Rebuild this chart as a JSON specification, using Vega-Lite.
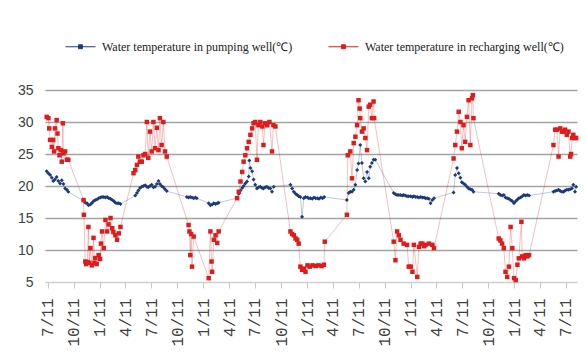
{
  "$schema": "https://vega.github.io/schema/vega-lite/v6.json",
  "width": 532,
  "height": 192,
  "autosize": {"type": "none"},
  "padding": {"left": 45, "top": 90, "right": 9, "bottom": 74},
  "background": "white",
  "config": {"view": {"stroke": null}},
  "data": {"values": [
    {"d":"2006-07-08","s":"P","t":22.3},{"d":"2006-07-14","s":"P","t":22.0},{"d":"2006-07-20","s":"P","t":21.7},{"d":"2006-07-26","s":"P","t":21.3},{"d":"2006-07-31","s":"P","t":20.8},{"d":"2006-08-06","s":"P","t":21.0},{"d":"2006-08-12","s":"P","t":21.4},{"d":"2006-08-18","s":"P","t":20.8},{"d":"2006-08-24","s":"P","t":20.4},{"d":"2006-08-30","s":"P","t":20.9},{"d":"2006-09-05","s":"P","t":20.3},{"d":"2006-09-11","s":"P","t":19.6},{"d":"2006-09-17","s":"P","t":19.4},{"d":"2006-09-22","s":"P","t":19.1},
    {"d":"2006-11-15","s":"P","t":17.7},{"d":"2006-11-21","s":"P","t":17.4},{"d":"2006-11-27","s":"P","t":17.3},{"d":"2006-12-02","s":"P","t":17.0},{"d":"2006-12-09","s":"P","t":17.1},{"d":"2006-12-15","s":"P","t":17.4},{"d":"2006-12-20","s":"P","t":17.6},{"d":"2006-12-26","s":"P","t":17.8},{"d":"2007-01-01","s":"P","t":17.9},{"d":"2007-01-07","s":"P","t":18.1},{"d":"2007-01-13","s":"P","t":18.2},{"d":"2007-01-19","s":"P","t":18.3},{"d":"2007-01-25","s":"P","t":18.3},{"d":"2007-01-31","s":"P","t":18.2},{"d":"2007-02-06","s":"P","t":18.3},{"d":"2007-02-12","s":"P","t":18.1},{"d":"2007-02-18","s":"P","t":18.0},{"d":"2007-02-24","s":"P","t":17.8},{"d":"2007-03-02","s":"P","t":17.6},{"d":"2007-03-07","s":"P","t":17.4},{"d":"2007-03-13","s":"P","t":17.3},{"d":"2007-03-19","s":"P","t":17.3},{"d":"2007-03-25","s":"P","t":17.2},
    {"d":"2007-05-16","s":"P","t":18.5},{"d":"2007-05-22","s":"P","t":18.9},{"d":"2007-05-27","s":"P","t":19.3},{"d":"2007-06-02","s":"P","t":19.7},{"d":"2007-06-08","s":"P","t":19.9},{"d":"2007-06-14","s":"P","t":20.0},{"d":"2007-06-20","s":"P","t":20.1},{"d":"2007-06-26","s":"P","t":19.9},{"d":"2007-07-01","s":"P","t":19.8},{"d":"2007-07-07","s":"P","t":20.0},{"d":"2007-07-13","s":"P","t":20.2},{"d":"2007-07-19","s":"P","t":19.8},{"d":"2007-07-25","s":"P","t":19.9},{"d":"2007-07-31","s":"P","t":20.3},{"d":"2007-08-06","s":"P","t":20.8},{"d":"2007-08-11","s":"P","t":20.3},{"d":"2007-08-17","s":"P","t":20.0},{"d":"2007-08-23","s":"P","t":19.8},{"d":"2007-08-29","s":"P","t":19.5},{"d":"2007-09-04","s":"P","t":19.2},
    {"d":"2007-11-14","s":"P","t":18.3},{"d":"2007-11-20","s":"P","t":18.2},{"d":"2007-11-26","s":"P","t":18.3},{"d":"2007-12-02","s":"P","t":18.2},{"d":"2007-12-08","s":"P","t":18.1},{"d":"2007-12-14","s":"P","t":18.2},{"d":"2007-12-19","s":"P","t":18.1},
    {"d":"2008-01-30","s":"P","t":17.3},{"d":"2008-02-05","s":"P","t":17.0},{"d":"2008-02-11","s":"P","t":17.1},{"d":"2008-02-17","s":"P","t":17.3},{"d":"2008-02-23","s":"P","t":17.2},{"d":"2008-02-29","s":"P","t":17.3},{"d":"2008-03-05","s":"P","t":17.4},
    {"d":"2008-05-09","s":"P","t":18.1},{"d":"2008-05-15","s":"P","t":18.8},{"d":"2008-05-21","s":"P","t":19.3},{"d":"2008-05-27","s":"P","t":19.7},{"d":"2008-06-01","s":"P","t":20.0},{"d":"2008-06-07","s":"P","t":20.4},{"d":"2008-06-13","s":"P","t":20.7},{"d":"2008-06-19","s":"P","t":21.5},{"d":"2008-06-21","s":"P","t":24.0},{"d":"2008-06-25","s":"P","t":22.8},{"d":"2008-07-01","s":"P","t":22.3},{"d":"2008-07-06","s":"P","t":21.0},{"d":"2008-07-12","s":"P","t":20.2},{"d":"2008-07-18","s":"P","t":19.6},{"d":"2008-07-24","s":"P","t":19.8},{"d":"2008-07-30","s":"P","t":19.9},{"d":"2008-08-05","s":"P","t":19.7},{"d":"2008-08-10","s":"P","t":19.6},{"d":"2008-08-16","s":"P","t":19.8},{"d":"2008-08-22","s":"P","t":19.9},{"d":"2008-08-28","s":"P","t":19.7},{"d":"2008-09-03","s":"P","t":19.6},{"d":"2008-09-09","s":"P","t":19.1},{"d":"2008-09-15","s":"P","t":19.9},
    {"d":"2008-11-13","s":"P","t":20.2},{"d":"2008-11-19","s":"P","t":19.6},{"d":"2008-11-25","s":"P","t":19.1},{"d":"2008-12-01","s":"P","t":18.8},{"d":"2008-12-07","s":"P","t":18.6},{"d":"2008-12-12","s":"P","t":18.4},{"d":"2008-12-18","s":"P","t":18.3},{"d":"2008-12-24","s":"P","t":15.2},{"d":"2008-12-30","s":"P","t":18.1},{"d":"2009-01-05","s":"P","t":18.3},{"d":"2009-01-12","s":"P","t":18.2},{"d":"2009-01-17","s":"P","t":18.1},{"d":"2009-01-23","s":"P","t":18.1},{"d":"2009-01-29","s":"P","t":18.0},{"d":"2009-02-04","s":"P","t":18.2},{"d":"2009-02-10","s":"P","t":18.1},{"d":"2009-02-16","s":"P","t":18.1},{"d":"2009-02-22","s":"P","t":18.0},{"d":"2009-02-28","s":"P","t":18.2},{"d":"2009-03-06","s":"P","t":18.1},{"d":"2009-03-12","s":"P","t":18.3},
    {"d":"2009-05-31","s":"P","t":17.8},{"d":"2009-06-06","s":"P","t":18.9},{"d":"2009-06-12","s":"P","t":19.1},{"d":"2009-06-18","s":"P","t":19.1},{"d":"2009-06-24","s":"P","t":19.4},{"d":"2009-06-30","s":"P","t":20.2},{"d":"2009-07-06","s":"P","t":22.5},{"d":"2009-07-11","s":"P","t":23.5},{"d":"2009-07-17","s":"P","t":26.4},{"d":"2009-07-23","s":"P","t":23.6},{"d":"2009-07-29","s":"P","t":21.2},{"d":"2009-08-04","s":"P","t":20.7},{"d":"2009-08-10","s":"P","t":22.2},{"d":"2009-08-16","s":"P","t":21.2},{"d":"2009-08-21","s":"P","t":23.0},{"d":"2009-08-27","s":"P","t":23.6},{"d":"2009-09-02","s":"P","t":24.1},{"d":"2009-09-08","s":"P","t":24.1},
    {"d":"2009-11-12","s":"P","t":18.9},{"d":"2009-11-18","s":"P","t":18.7},{"d":"2009-11-24","s":"P","t":18.6},{"d":"2009-11-30","s":"P","t":18.6},{"d":"2009-12-06","s":"P","t":18.6},{"d":"2009-12-12","s":"P","t":18.5},{"d":"2009-12-17","s":"P","t":18.6},{"d":"2009-12-23","s":"P","t":18.5},{"d":"2009-12-29","s":"P","t":18.4},{"d":"2010-01-04","s":"P","t":18.4},{"d":"2010-01-11","s":"P","t":18.4},{"d":"2010-01-17","s":"P","t":18.3},{"d":"2010-01-22","s":"P","t":18.4},{"d":"2010-01-28","s":"P","t":18.3},{"d":"2010-02-03","s":"P","t":18.3},{"d":"2010-02-09","s":"P","t":18.2},{"d":"2010-02-15","s":"P","t":18.3},{"d":"2010-02-21","s":"P","t":18.2},{"d":"2010-02-27","s":"P","t":18.2},{"d":"2010-03-04","s":"P","t":18.1},{"d":"2010-03-10","s":"P","t":18.1},{"d":"2010-03-16","s":"P","t":18.0},{"d":"2010-03-22","s":"P","t":17.3},{"d":"2010-03-28","s":"P","t":17.8},{"d":"2010-04-03","s":"P","t":18.1},
    {"d":"2010-06-11","s":"P","t":19.0},{"d":"2010-06-17","s":"P","t":21.7},{"d":"2010-06-23","s":"P","t":22.8},{"d":"2010-06-29","s":"P","t":22.0},{"d":"2010-07-05","s":"P","t":21.3},{"d":"2010-07-10","s":"P","t":20.6},{"d":"2010-07-16","s":"P","t":20.4},{"d":"2010-07-22","s":"P","t":20.2},{"d":"2010-07-28","s":"P","t":19.9},{"d":"2010-08-03","s":"P","t":19.6},{"d":"2010-08-09","s":"P","t":19.5},{"d":"2010-08-15","s":"P","t":19.4},{"d":"2010-08-20","s":"P","t":19.1},
    {"d":"2010-11-17","s":"P","t":18.8},{"d":"2010-11-23","s":"P","t":18.6},{"d":"2010-11-29","s":"P","t":18.5},{"d":"2010-12-05","s":"P","t":18.6},{"d":"2010-12-11","s":"P","t":18.2},{"d":"2010-12-17","s":"P","t":18.1},{"d":"2010-12-23","s":"P","t":18.0},{"d":"2010-12-29","s":"P","t":17.8},{"d":"2011-01-04","s":"P","t":17.6},{"d":"2011-01-10","s":"P","t":17.3},{"d":"2011-01-16","s":"P","t":17.6},{"d":"2011-01-22","s":"P","t":17.9},{"d":"2011-01-27","s":"P","t":18.1},{"d":"2011-02-02","s":"P","t":18.2},{"d":"2011-02-08","s":"P","t":18.4},{"d":"2011-02-14","s":"P","t":18.6},{"d":"2011-02-20","s":"P","t":18.5},{"d":"2011-02-26","s":"P","t":18.6},{"d":"2011-03-04","s":"P","t":18.5},
    {"d":"2011-05-29","s":"P","t":19.1},{"d":"2011-06-04","s":"P","t":19.2},{"d":"2011-06-10","s":"P","t":19.3},{"d":"2011-06-16","s":"P","t":19.4},{"d":"2011-06-22","s":"P","t":19.2},{"d":"2011-06-28","s":"P","t":19.1},{"d":"2011-07-04","s":"P","t":19.1},{"d":"2011-07-09","s":"P","t":19.3},{"d":"2011-07-15","s":"P","t":19.4},{"d":"2011-07-21","s":"P","t":19.4},{"d":"2011-07-27","s":"P","t":19.5},{"d":"2011-08-02","s":"P","t":19.6},{"d":"2011-08-07","s":"P","t":20.2},{"d":"2011-08-13","s":"P","t":19.1},{"d":"2011-08-17","s":"P","t":19.9},

    {"d":"2006-07-08","s":"R","t":30.8},{"d":"2006-07-14","s":"R","t":30.6},{"d":"2006-07-17","s":"R","t":29.0},{"d":"2006-07-20","s":"R","t":27.2},{"d":"2006-07-26","s":"R","t":26.1},{"d":"2006-07-31","s":"R","t":27.2},{"d":"2006-08-03","s":"R","t":25.4},{"d":"2006-08-06","s":"R","t":29.0},{"d":"2006-08-12","s":"R","t":30.3},{"d":"2006-08-15","s":"R","t":28.2},{"d":"2006-08-18","s":"R","t":25.9},{"d":"2006-08-22","s":"R","t":24.8},{"d":"2006-08-27","s":"R","t":25.6},{"d":"2006-08-30","s":"R","t":23.8},{"d":"2006-09-03","s":"R","t":29.8},{"d":"2006-09-05","s":"R","t":25.1},{"d":"2006-09-11","s":"R","t":25.4},{"d":"2006-09-17","s":"R","t":24.1},{"d":"2006-09-22","s":"R","t":24.1},
    {"d":"2006-11-15","s":"R","t":17.8},{"d":"2006-11-16","s":"R","t":15.5},{"d":"2006-11-21","s":"R","t":8.2},{"d":"2006-11-24","s":"R","t":7.8},{"d":"2006-11-28","s":"R","t":8.1},{"d":"2006-12-02","s":"R","t":13.6},{"d":"2006-12-05","s":"R","t":8.0},{"d":"2006-12-09","s":"R","t":10.3},{"d":"2006-12-14","s":"R","t":7.6},{"d":"2006-12-20","s":"R","t":11.9},{"d":"2006-12-23","s":"R","t":8.0},{"d":"2006-12-26","s":"R","t":8.75},{"d":"2006-12-31","s":"R","t":7.8},{"d":"2007-01-07","s":"R","t":9.2},{"d":"2007-01-12","s":"R","t":8.6},{"d":"2007-01-15","s":"R","t":11.0},{"d":"2007-01-19","s":"R","t":12.9},{"d":"2007-01-25","s":"R","t":10.3},{"d":"2007-01-31","s":"R","t":14.7},{"d":"2007-02-06","s":"R","t":12.9},{"d":"2007-02-11","s":"R","t":14.0},{"d":"2007-02-18","s":"R","t":15.0},{"d":"2007-02-24","s":"R","t":13.4},{"d":"2007-02-28","s":"R","t":12.8},{"d":"2007-03-07","s":"R","t":12.3},{"d":"2007-03-13","s":"R","t":11.6},{"d":"2007-03-19","s":"R","t":12.6},{"d":"2007-03-25","s":"R","t":13.6},
    {"d":"2007-05-10","s":"R","t":22.0},{"d":"2007-05-16","s":"R","t":22.5},{"d":"2007-05-22","s":"R","t":23.3},{"d":"2007-05-27","s":"R","t":24.6},{"d":"2007-06-02","s":"R","t":23.8},{"d":"2007-06-08","s":"R","t":23.8},{"d":"2007-06-14","s":"R","t":24.8},{"d":"2007-06-20","s":"R","t":25.0},{"d":"2007-06-26","s":"R","t":30.0},{"d":"2007-07-01","s":"R","t":24.4},{"d":"2007-07-07","s":"R","t":28.5},{"d":"2007-07-13","s":"R","t":25.4},{"d":"2007-07-19","s":"R","t":30.0},{"d":"2007-07-25","s":"R","t":25.9},{"d":"2007-07-31","s":"R","t":29.1},{"d":"2007-08-06","s":"R","t":25.6},{"d":"2007-08-11","s":"R","t":30.6},{"d":"2007-08-17","s":"R","t":26.4},{"d":"2007-08-23","s":"R","t":30.0},{"d":"2007-08-29","s":"R","t":25.4},{"d":"2007-09-04","s":"R","t":24.6},
    {"d":"2007-11-20","s":"R","t":13.9},{"d":"2007-11-23","s":"R","t":12.9},{"d":"2007-11-26","s":"R","t":9.2},{"d":"2007-11-29","s":"R","t":12.5},{"d":"2007-12-02","s":"R","t":7.4},{"d":"2007-12-08","s":"R","t":12.1},
    {"d":"2008-01-30","s":"R","t":5.6},{"d":"2008-02-05","s":"R","t":12.9},{"d":"2008-02-09","s":"R","t":8.2},{"d":"2008-02-11","s":"R","t":6.6},{"d":"2008-02-17","s":"R","t":11.6},{"d":"2008-02-23","s":"R","t":12.3},{"d":"2008-02-29","s":"R","t":11.1},{"d":"2008-03-05","s":"R","t":12.9},
    {"d":"2008-05-09","s":"R","t":18.1},{"d":"2008-05-15","s":"R","t":19.1},{"d":"2008-05-21","s":"R","t":20.7},{"d":"2008-05-27","s":"R","t":22.2},{"d":"2008-06-01","s":"R","t":23.8},{"d":"2008-06-07","s":"R","t":24.8},{"d":"2008-06-13","s":"R","t":25.9},{"d":"2008-06-19","s":"R","t":26.9},{"d":"2008-06-25","s":"R","t":28.0},{"d":"2008-07-01","s":"R","t":29.0},{"d":"2008-07-06","s":"R","t":29.8},{"d":"2008-07-12","s":"R","t":30.0},{"d":"2008-07-18","s":"R","t":24.1},{"d":"2008-07-23","s":"R","t":29.5},{"d":"2008-07-30","s":"R","t":30.0},{"d":"2008-08-06","s":"R","t":29.3},{"d":"2008-08-10","s":"R","t":26.4},{"d":"2008-08-16","s":"R","t":29.8},{"d":"2008-08-23","s":"R","t":29.5},{"d":"2008-08-31","s":"R","t":30.0},{"d":"2008-09-09","s":"R","t":25.4},{"d":"2008-09-14","s":"R","t":29.5},{"d":"2008-09-21","s":"R","t":29.3},
    {"d":"2008-11-13","s":"R","t":12.9},{"d":"2008-11-19","s":"R","t":12.5},{"d":"2008-11-25","s":"R","t":12.3},{"d":"2008-12-01","s":"R","t":11.8},{"d":"2008-12-07","s":"R","t":11.6},{"d":"2008-12-12","s":"R","t":11.0},{"d":"2008-12-18","s":"R","t":7.4},{"d":"2008-12-24","s":"R","t":6.9},{"d":"2008-12-30","s":"R","t":7.1},{"d":"2009-01-05","s":"R","t":6.6},{"d":"2009-01-12","s":"R","t":7.6},{"d":"2009-01-20","s":"R","t":7.4},{"d":"2009-01-30","s":"R","t":7.6},{"d":"2009-02-10","s":"R","t":7.5},{"d":"2009-02-20","s":"R","t":7.6},{"d":"2009-03-03","s":"R","t":7.5},{"d":"2009-03-11","s":"R","t":7.7},{"d":"2009-03-14","s":"R","t":11.3},
    {"d":"2009-05-31","s":"R","t":15.5},{"d":"2009-06-03","s":"R","t":24.8},{"d":"2009-06-12","s":"R","t":25.4},{"d":"2009-06-18","s":"R","t":21.2},{"d":"2009-06-24","s":"R","t":26.7},{"d":"2009-06-30","s":"R","t":27.7},{"d":"2009-07-06","s":"R","t":29.5},{"d":"2009-07-11","s":"R","t":33.4},{"d":"2009-07-15","s":"R","t":32.1},{"d":"2009-07-17","s":"R","t":30.6},{"d":"2009-07-23","s":"R","t":28.5},{"d":"2009-07-29","s":"R","t":29.0},{"d":"2009-08-04","s":"R","t":27.5},{"d":"2009-08-10","s":"R","t":25.6},{"d":"2009-08-16","s":"R","t":32.4},{"d":"2009-08-21","s":"R","t":32.7},{"d":"2009-08-27","s":"R","t":30.6},{"d":"2009-09-02","s":"R","t":33.2},{"d":"2009-09-04","s":"R","t":30.6},
    {"d":"2009-11-12","s":"R","t":11.3},{"d":"2009-11-18","s":"R","t":8.4},{"d":"2009-11-24","s":"R","t":12.9},{"d":"2009-11-30","s":"R","t":12.3},{"d":"2009-12-06","s":"R","t":11.6},{"d":"2009-12-17","s":"R","t":11.0},{"d":"2009-12-29","s":"R","t":10.8},{"d":"2010-01-04","s":"R","t":7.4},{"d":"2010-01-11","s":"R","t":7.4},{"d":"2010-01-17","s":"R","t":6.6},{"d":"2010-01-22","s":"R","t":10.8},{"d":"2010-02-03","s":"R","t":5.8},{"d":"2010-02-09","s":"R","t":10.5},{"d":"2010-02-15","s":"R","t":11.0},{"d":"2010-02-21","s":"R","t":11.0},{"d":"2010-02-27","s":"R","t":10.6},{"d":"2010-03-04","s":"R","t":10.8},{"d":"2010-03-16","s":"R","t":11.0},{"d":"2010-03-28","s":"R","t":10.8},{"d":"2010-04-03","s":"R","t":10.3},
    {"d":"2010-06-11","s":"R","t":24.3},{"d":"2010-06-17","s":"R","t":26.4},{"d":"2010-06-23","s":"R","t":28.5},{"d":"2010-06-29","s":"R","t":31.6},{"d":"2010-07-05","s":"R","t":30.0},{"d":"2010-07-10","s":"R","t":25.9},{"d":"2010-07-16","s":"R","t":29.5},{"d":"2010-07-22","s":"R","t":26.9},{"d":"2010-07-28","s":"R","t":30.8},{"d":"2010-08-03","s":"R","t":33.4},{"d":"2010-08-09","s":"R","t":26.4},{"d":"2010-08-15","s":"R","t":33.7},{"d":"2010-08-18","s":"R","t":34.2},{"d":"2010-08-20","s":"R","t":30.6},
    {"d":"2010-11-17","s":"R","t":11.8},{"d":"2010-11-23","s":"R","t":11.5},{"d":"2010-11-29","s":"R","t":11.0},{"d":"2010-12-05","s":"R","t":10.3},{"d":"2010-12-11","s":"R","t":6.6},{"d":"2010-12-17","s":"R","t":5.8},{"d":"2010-12-23","s":"R","t":7.4},{"d":"2010-12-29","s":"R","t":13.6},{"d":"2011-01-04","s":"R","t":10.3},{"d":"2011-01-10","s":"R","t":5.6},{"d":"2011-01-16","s":"R","t":5.3},{"d":"2011-01-22","s":"R","t":7.7},{"d":"2011-01-27","s":"R","t":8.7},{"d":"2011-02-05","s":"R","t":14.4},{"d":"2011-02-08","s":"R","t":9.0},{"d":"2011-02-14","s":"R","t":8.7},{"d":"2011-02-20","s":"R","t":9.2},{"d":"2011-02-26","s":"R","t":9.0},{"d":"2011-03-04","s":"R","t":9.2},
    {"d":"2011-05-29","s":"R","t":26.4},{"d":"2011-06-04","s":"R","t":28.8},{"d":"2011-06-10","s":"R","t":28.8},{"d":"2011-06-16","s":"R","t":24.6},{"d":"2011-06-22","s":"R","t":29.0},{"d":"2011-06-28","s":"R","t":28.5},{"d":"2011-07-04","s":"R","t":28.5},{"d":"2011-07-09","s":"R","t":28.8},{"d":"2011-07-15","s":"R","t":28.0},{"d":"2011-07-21","s":"R","t":28.5},{"d":"2011-07-27","s":"R","t":24.6},{"d":"2011-07-30","s":"R","t":25.0},{"d":"2011-08-03","s":"R","t":27.5},{"d":"2011-08-07","s":"R","t":28.0},{"d":"2011-08-13","s":"R","t":27.5},{"d":"2011-08-17","s":"R","t":27.5}
  ]},
  "encoding": {
    "x": {
      "field": "d", "type": "temporal",
      "scale": {"type": "utc", "domain": [{"year": 2006, "month": 7, "date": 2, "utc": true}, {"year": 2011, "month": 8, "date": 20, "utc": true}]},
      "axis": {
        "title": null, "grid": false,
        "labelExpr": "utcFormat(datum.value, '%-m/%d')",
        "values": [
          {"year":2006,"month":7,"date":11,"utc":true},{"year":2006,"month":10,"date":11,"utc":true},
          {"year":2007,"month":1,"date":11,"utc":true},{"year":2007,"month":4,"date":11,"utc":true},{"year":2007,"month":7,"date":11,"utc":true},{"year":2007,"month":10,"date":11,"utc":true},
          {"year":2008,"month":1,"date":11,"utc":true},{"year":2008,"month":4,"date":11,"utc":true},{"year":2008,"month":7,"date":11,"utc":true},{"year":2008,"month":10,"date":11,"utc":true},
          {"year":2009,"month":1,"date":11,"utc":true},{"year":2009,"month":4,"date":11,"utc":true},{"year":2009,"month":7,"date":11,"utc":true},{"year":2009,"month":10,"date":11,"utc":true},
          {"year":2010,"month":1,"date":11,"utc":true},{"year":2010,"month":4,"date":11,"utc":true},{"year":2010,"month":7,"date":11,"utc":true},{"year":2010,"month":10,"date":11,"utc":true},
          {"year":2011,"month":1,"date":11,"utc":true},{"year":2011,"month":4,"date":11,"utc":true},{"year":2011,"month":7,"date":11,"utc":true}
        ],
        "labelAngle": -90, "labelFont": "Liberation Mono", "labelFontSize": 16, "labelColor": "#404040",
        "labelPadding": 10, "labelOverlap": false, "labelFlush": false,
        "domainColor": "#d0d0d0", "domainWidth": 1, "tickColor": "#c8c8c8", "tickSize": 6
      }
    },
    "y": {
      "field": "t", "type": "quantitative",
      "scale": {"domain": [5, 35], "nice": false, "zero": false},
      "axis": {
        "title": null, "values": [5, 10, 15, 20, 25, 30, 35],
        "domain": false, "ticks": false,
        "labelFont": "Liberation Sans", "labelFontSize": 14, "labelColor": "#404040", "labelPadding": 12,
        "gridColor": {"condition": {"test": "datum.value === 5", "value": "#d0d0d0"}, "value": "#a3a3a3"},
        "gridWidth": 1.4
      }
    },
    "color": {
      "field": "s", "type": "nominal",
      "scale": {"domain": ["P", "R"], "range": ["#1d3a78", "#e01b1b"]},
      "legend": {
        "orient": "none", "legendX": 20, "legendY": -59, "direction": "horizontal", "title": null,
        "symbolType": "M-1,0L1,0M-0.13,-0.13L0.13,-0.13L0.13,0.13L-0.13,0.13Z",
        "symbolSize": 900, "symbolStrokeWidth": 1,
        "labelFont": "Liberation Serif", "labelFontSize": 12, "labelColor": "#222222", "labelOffset": 6, "labelLimit": 300,
        "columnPadding": 33,
        "labelExpr": "datum.value == 'P' ? 'Water temperature in pumping well(℃)' : 'Water temperature in recharging well(℃)'",
        "encode": {"symbols": {"update": {
          "stroke": {"scale": "color", "field": "value"},
          "fill": {"scale": "color", "field": "value"},
          "opacity": {"value": 1}, "strokeOpacity": {"value": 1}, "fillOpacity": {"value": 1},
          "strokeWidth": {"value": 1}, "size": {"value": 900}
        }}}
      }
    }
  },
  "layer": [
    {"mark": {"type": "line", "strokeWidth": 0.8, "strokeOpacity": 0.35}},
    {"transform": [{"filter": "datum.s == 'P'"}], "mark": {"type": "point", "filled": true, "shape": "diamond", "size": 16, "opacity": 1}},
    {"transform": [{"filter": "datum.s == 'R'"}], "mark": {"type": "point", "filled": true, "shape": "square", "size": 20, "opacity": 1}}
  ]
}
